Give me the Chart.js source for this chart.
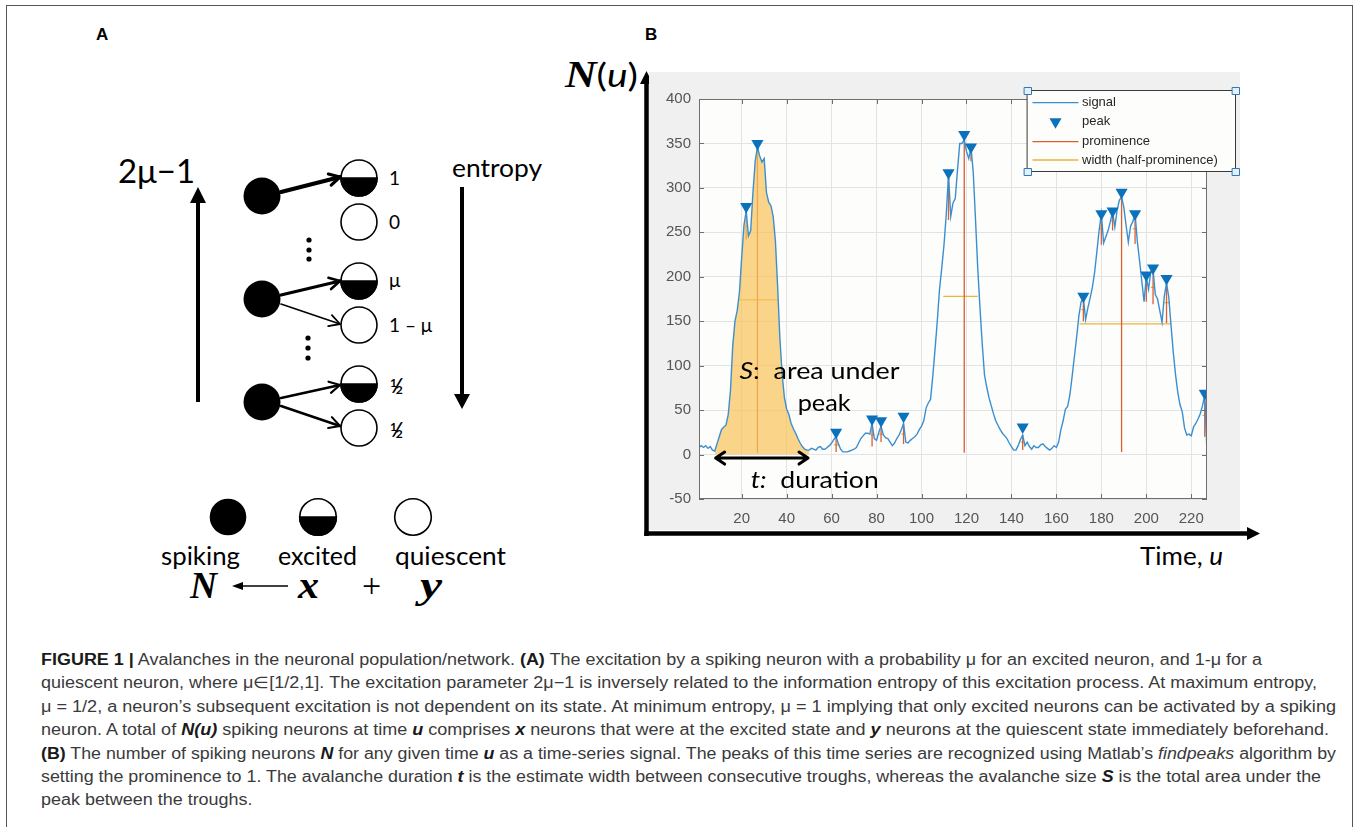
<!DOCTYPE html>
<html>
<head>
<meta charset="utf-8">
<script src="https://cdn.jsdelivr.net/npm/chart.js@4.4.1/dist/chart.umd.min.js"></script>
<style>
  body { margin: 0; width: 1359px; height: 827px; background: #fff; position: relative; overflow: hidden; font-family: 'Liberation Sans', Arial, sans-serif; }
  #frame { position: absolute; left: 6px; top: 5px; width: 1347px; height: 900px; border: 1.5px solid #555; box-sizing: border-box; }
  #panelA { position: absolute; left: 0; top: 0; }
  #chartB { position: absolute; left: 649px; top: 72px; }
  #caption { position: absolute; left: 41px; top: 648px; font-size: 16px; line-height: 23.4px; color: #3a3a3a; }
  #caption div { white-space: nowrap; }
  #caption span.l { display: inline-block; transform-origin: 0 0; }
  #caption b { color: #1a1a1a; }
</style>
</head>
<body>
<div id="frame"></div>
<svg id="panelA" width="1359" height="640" viewBox="0 0 1359 640"></svg>
<canvas id="chartB" width="591" height="458"></canvas>
<div id="caption">
  <div><span class="l"><b>FIGURE 1 |</b> Avalanches in the neuronal population/network. <b>(A)</b> The excitation by a spiking neuron with a probability μ for an excited neuron, and 1-μ for a</span></div>
  <div><span class="l">quiescent neuron, where μ∈[1/2,1]. The excitation parameter 2μ−1 is inversely related to the information entropy of this excitation process. At maximum entropy,</span></div>
  <div><span class="l">μ = 1/2, a neuron’s subsequent excitation is not dependent on its state. At minimum entropy, μ = 1 implying that only excited neurons can be activated by a spiking</span></div>
  <div><span class="l">neuron. A total of <b><i>N(u)</i></b> spiking neurons at time <b><i>u</i></b> comprises <b><i>x</i></b> neurons that were at the excited state and <b><i>y</i></b> neurons at the quiescent state immediately beforehand.</span></div>
  <div><span class="l"><b>(B)</b> The number of spiking neurons <b><i>N</i></b> for any given time <b><i>u</i></b> as a time-series signal. The peaks of this time series are recognized using Matlab’s <i>findpeaks</i> algorithm by</span></div>
  <div><span class="l">setting the prominence to 1. The avalanche duration <b><i>t</i></b> is the estimate width between consecutive troughs, whereas the avalanche size <b><i>S</i></b> is the total area under the</span></div>
  <div><span class="l">peak between the troughs.</span></div>
</div>
<script>
// N(u): number of spiking neurons, sampled at u = 1, 2, ... 227
const signal = [
  8, 10, 8, 10, 7, 9, 5, 4, 12, 20,
  28, 31, 33, 45, 72, 122, 150, 162, 183, 222,
  258, 274, 246, 252, 295, 330, 346, 336, 329, 333,
  295, 284, 280, 268, 240, 188, 130, 90, 64, 51,
  45, 35, 29, 24, 18, 13, 9, 6, 5, 5,
  7, 6, 5, 8, 9, 6, 6, 8, 10, 13,
  17, 20, 12, 6, 3, 3, 3, 4, 5, 6,
  8, 13, 18, 21, 24, 24, 23, 35, 18, 16,
  25, 32, 22, 19, 18, 14, 10, 13, 18, 22,
  28, 35, 14, 13, 16, 18, 20, 23, 28, 32,
  38, 52, 58, 62, 88, 118, 150, 186, 210, 236,
  270, 315, 268, 283, 288, 320, 350, 350, 354, 341,
  333, 345, 318, 265, 210, 165, 125, 90, 76, 64,
  55, 46, 38, 33, 28, 24, 21, 18, 13, 9,
  5, 5, 10, 17, 22, 10, 14, 9, 6, 10,
  8, 8, 11, 12, 9, 7, 5, 7, 10, 8,
  14, 28, 38, 51, 54, 67, 88, 110, 132, 156,
  172, 176, 152, 165, 176, 188, 205, 228, 252, 271,
  238, 245, 252, 262, 273, 256, 275, 286, 290, 278,
  258, 239, 257, 262, 271, 240, 218, 195, 172, 200,
  186, 206, 208, 180, 175, 162, 149, 178, 193, 177,
  145, 115, 90, 70, 56, 48, 30, 22, 23, 21,
  31, 35, 40, 46, 55, 67, 2
];
const firstU = 1;

// findpeaks output
const peakU     = [22, 27, 62, 78, 82, 92, 112, 119, 122, 145, 172, 180, 185, 189, 195, 200, 203, 209, 226];
const peakMark  = [279, 350, 25, 40, 38, 43, 317, 360, 346, 31, 178, 271, 274, 295, 271, 202, 210, 198, 69];
const promTop   = [272, 346, 20, 35, 32, 35, 315, 354, 345, 22, 176, 271, 273, 290, 271, 200, 208, 193, 67];
const promBase  = [242, 2, 3, 9, 14, 12, 264, 2, 330, 5, 150, 236, 252, 3, 237, 172, 169, 148, 20];
const widthLevel = [257, 174, 11, 22, 23, 23, 290, 178, 338, 14, 163, 254, 263, 147, 254, 186, 188, 171, 44];
const widthLeft  = [21.4, 18.8, 61, 77.4, 81, 91, 111.3, 109.7, 121.6, 144, 171, 179, 184.3, 170.3, 194, 199.5, 202, 208, 225];
const widthRight = [22.6, 36, 63.5, 79, 83, 92.7, 112.6, 125, 122.6, 146, 172.8, 180.6, 185.5, 211, 195.9, 200.6, 203.5, 210.5, 226.4];

// shaded avalanche (trough to trough)
const areaFrom = 8;
const areaTo = 50;

const xTicks = [20, 40, 60, 80, 100, 120, 140, 160, 180, 200, 220];
const yTicks = [-50, 0, 50, 100, 150, 200, 250, 300, 350, 400];

// ---------- panel A (diagram) ----------
function buildPanelA () {
  const svg = document.getElementById('panelA')
  const NS = 'http://www.w3.org/2000/svg'
  const add = (tag, attrs, text) => {
    const el = document.createElementNS(NS, tag)
    for (const k in attrs) el.setAttribute(k, attrs[k])
    if (text !== undefined) el.textContent = text
    svg.appendChild(el)
    return el
  }
  const sans = "Lato, 'Open Sans', sans-serif"
  const serif = "'Liberation Serif', 'DejaVu Serif', serif"

  add('text', { x: 96, y: 40, 'font-family': 'Liberation Sans, Arial', 'font-weight': 'bold', 'font-size': 17 }, 'A')
  add('text', { x: 645, y: 40, 'font-family': 'Liberation Sans, Arial', 'font-weight': 'bold', 'font-size': 17 }, 'B')

  add('text', { x: 118, y: 183, 'font-family': sans, 'font-size': 32, textLength: 77, lengthAdjust: 'spacingAndGlyphs' }, '2μ−1')
  add('text', { x: 452, y: 177, 'font-family': sans, 'font-size': 25, textLength: 90, lengthAdjust: 'spacingAndGlyphs' }, 'entropy')

  // big up / down arrows
  add('line', { x1: 198, y1: 402, x2: 198, y2: 200, stroke: '#000', 'stroke-width': 4 })
  add('polygon', { points: '190,203 206,203 198,187', fill: '#000' })
  add('line', { x1: 462, y1: 187, x2: 462, y2: 396, stroke: '#000', 'stroke-width': 4 })
  add('polygon', { points: '454,394 470,394 462,409', fill: '#000' })

  const disk = (cx, cy, r) => add('circle', { cx, cy, r, fill: '#000' })
  const open = (cx, cy, r) => add('circle', { cx, cy, r, fill: '#fff', stroke: '#000', 'stroke-width': 1.6 })
  const half = (cx, cy, r) => {
    open(cx, cy, r)
    add('path', { d: `M${cx - r},${cy} A${r},${r} 0 0 0 ${cx + r},${cy} Z`, fill: '#000', stroke: '#000', 'stroke-width': 1.6 })
  }
  const arrow = (x1, y1, x2, y2, w) => {
    add('line', { x1, y1, x2, y2, stroke: '#000', 'stroke-width': w, 'stroke-linecap': 'round' })
    const ang = Math.atan2(y2 - y1, x2 - x1)
    const len = 12
    const spread = 0.5
    const p1 = [x2 - len * Math.cos(ang - spread), y2 - len * Math.sin(ang - spread)]
    const p2 = [x2 - len * Math.cos(ang + spread), y2 - len * Math.sin(ang + spread)]
    add('polyline', { points: `${p1[0]},${p1[1]} ${x2},${y2} ${p2[0]},${p2[1]}`, fill: 'none', stroke: '#000', 'stroke-width': Math.max(w * 0.8, 1.8), 'stroke-linecap': 'round', 'stroke-linejoin': 'round' })
  }

  // spiking sources
  disk(262, 196, 18.5)
  disk(262, 299, 18.5)
  disk(262, 402, 18.5)
  // targets
  half(359, 178, 18)
  open(359, 222, 18)
  half(359, 281, 18)
  open(359, 325, 18)
  half(359, 384, 18)
  open(359, 428, 18)

  arrow(281, 192, 340, 177, 4)
  arrow(281, 295, 340, 281, 3.2)
  arrow(281, 304, 340, 324, 1.6)
  arrow(281, 398, 340, 385, 2.6)
  arrow(281, 406, 340, 426, 2.6)

  const lab = (x, y, t) => add('text', { x, y, 'font-family': sans, 'font-size': 19 }, t)
  lab(389, 185, '1')
  lab(389, 229, '0')
  lab(389, 287, 'μ')
  lab(389, 332, '1 – μ')
  // one-half labels built from small digits and a slash
  const halfLabel = (x, cy) => {
    const t = add('text', { x, y: cy, 'font-family': sans, 'font-weight': 'bold' })
    t.innerHTML = `<tspan font-size="12" dy="-2">1</tspan><tspan font-size="20" dx="-1" dy="6">⁄</tspan><tspan font-size="12" dx="-3" dy="1">2</tspan>`
  }
  halfLabel(390, 389)
  halfLabel(390, 433)

  ;[[309, 240], [309, 250], [309, 259], [308, 338], [308, 348], [308, 358]].forEach(([cx, cy]) => add('circle', { cx, cy, r: 2.6, fill: '#000' }))

  // key
  disk(228, 517, 18.3)
  half(318, 517, 18.3)
  open(413, 517, 18.3)
  add('text', { x: 161, y: 565, 'font-family': sans, 'font-size': 25, textLength: 79, lengthAdjust: 'spacingAndGlyphs' }, 'spiking')
  add('text', { x: 278, y: 565, 'font-family': sans, 'font-size': 25, textLength: 79, lengthAdjust: 'spacingAndGlyphs' }, 'excited')
  add('text', { x: 395, y: 565, 'font-family': sans, 'font-size': 25, textLength: 111, lengthAdjust: 'spacingAndGlyphs' }, 'quiescent')

  const mathVar = (x, t, w) => add('text', { x, y: 598, 'font-family': serif, 'font-size': 38, 'font-weight': 'bold', 'font-style': 'italic', textLength: w, lengthAdjust: 'spacingAndGlyphs' }, t)
  mathVar(190, 'N', 27)
  mathVar(298, 'x', 21)
  mathVar(420, 'y', 22)
  add('text', { x: 362, y: 597, 'font-family': serif, 'font-size': 34 }, '+')
  add('line', { x1: 288, y1: 586, x2: 240, y2: 586, stroke: '#000', 'stroke-width': 1.3 })
  add('polygon', { points: '232,586 243,582 243,590', fill: '#000' })

  // panel B outer axes and axis titles
  add('line', { x1: 646.5, y1: 536, x2: 646.5, y2: 82, stroke: '#000', 'stroke-width': 4.5 })
  add('polygon', { points: '640,84 653,84 646.5,71', fill: '#000' })
  add('line', { x1: 644.3, y1: 533.5, x2: 1249, y2: 533.5, stroke: '#000', 'stroke-width': 4.5 })
  add('polygon', { points: '1247,527 1247,540 1260,533.5', fill: '#000' })

  const nu = add('text', { x: 565, y: 87, 'font-size': 33, textLength: 73, lengthAdjust: 'spacingAndGlyphs' })
  nu.innerHTML = `<tspan font-family="${serif}" font-weight="bold" font-style="italic" font-size="37">N</tspan><tspan font-family="${sans}">(</tspan><tspan font-family="${sans}" font-style="italic">u</tspan><tspan font-family="${sans}">)</tspan>`
  const tu = add('text', { x: 1140, y: 565, 'font-family': sans, 'font-size': 25, textLength: 83, lengthAdjust: 'spacingAndGlyphs' })
  tu.innerHTML = 'Time, <tspan font-style="italic">u</tspan>'
}

// ---------- panel B (Chart.js) ----------
function fitText (ctx, parts, x, y, width) {
  let total = 0
  parts.forEach(p => { ctx.font = p.font; p.w = ctx.measureText(p.text).width; total += p.w })
  ctx.save()
  ctx.translate(x, y)
  ctx.scale(width / total, 1)
  let cx = 0
  parts.forEach(p => { ctx.font = p.font; ctx.fillText(p.text, cx, 0); cx += p.w })
  ctx.restore()
}

const matlabLook = {
  id: 'matlabLook',
  beforeDraw (chart) {
    const { ctx, chartArea: a, width, height } = chart
    ctx.save()
    ctx.fillStyle = '#f0f0f0'
    ctx.fillRect(0, 0, width, height)
    ctx.fillStyle = '#fdfdfb'
    ctx.fillRect(a.left, a.top, a.right - a.left, a.bottom - a.top)
    ctx.restore()
  },
  afterDatasetsDraw (chart) {
    const { ctx, chartArea: a, scales } = chart
    ctx.save()
    ctx.strokeStyle = '#6e6e6e'
    ctx.lineWidth = 1
    ctx.strokeRect(Math.round(a.left) + 0.5, Math.round(a.top) + 0.5, Math.round(a.right - a.left) - 1, Math.round(a.bottom - a.top) - 1)
    ctx.beginPath()
    xTicks.forEach(v => {
      const px = Math.round(scales.x.getPixelForValue(v)) + 0.5
      ctx.moveTo(px, a.bottom); ctx.lineTo(px, a.bottom - 5)
      ctx.moveTo(px, a.top); ctx.lineTo(px, a.top + 5)
    })
    yTicks.forEach(v => {
      const py = Math.round(scales.y.getPixelForValue(v)) + 0.5
      ctx.moveTo(a.left, py); ctx.lineTo(a.left + 5, py)
      ctx.moveTo(a.right, py); ctx.lineTo(a.right - 5, py)
    })
    ctx.stroke()
    ctx.restore()
  },
  afterDraw (chart) {
    const { ctx, chartArea: a, scales } = chart
    const px = v => scales.x.getPixelForValue(v)
    const py = v => scales.y.getPixelForValue(v)
    ctx.save()

    // duration arrow
    const ay = py(-4)
    const ax1 = px(areaFrom + 0.4)
    const ax2 = px(areaTo - 0.5)
    ctx.strokeStyle = '#000'
    ctx.lineWidth = 3
    ctx.lineCap = 'round'
    ctx.lineJoin = 'round'
    ctx.beginPath()
    ctx.moveTo(ax1, ay); ctx.lineTo(ax2, ay)
    ctx.moveTo(ax1 + 9, ay - 6); ctx.lineTo(ax1, ay); ctx.lineTo(ax1 + 9, ay + 6)
    ctx.moveTo(ax2 - 9, ay - 6); ctx.lineTo(ax2, ay); ctx.lineTo(ax2 - 9, ay + 6)
    ctx.stroke()

    ctx.fillStyle = '#000'
    ctx.textBaseline = 'alphabetic'
    fitText(ctx, [{ text: 'S', font: 'italic 24px Lato' }, { text: ':  area under', font: '24px Lato' }], px(19), py(85), 160)
    fitText(ctx, [{ text: 'peak', font: '24px Lato' }], px(44.9), py(49), 53)
    fitText(ctx, [{ text: 't:', font: 'italic 24px Lato' }, { text: '  duration', font: '24px Lato' }], px(24), py(-37.6), 128)

    // legend box
    const lx = a.right - 180
    const ly = a.top - 9
    const lw = 208
    const lh = 81
    ctx.fillStyle = '#fdfdfb'
    ctx.fillRect(lx, ly, lw, lh)
    ctx.strokeStyle = '#3a3a3a'
    ctx.lineWidth = 1
    ctx.strokeRect(lx + 0.5, ly + 0.5, lw, lh)
    const rows = [12.7, 31.7, 51.7, 70]
    const entries = chart.data.datasets.filter(d => d.legendRow !== undefined)
    ctx.font = '13px "Liberation Sans", Arial'
    ctx.textBaseline = 'middle'
    entries.forEach(d => {
      const ry = ly + rows[d.legendRow]
      if (d.showLine === false) {
        const cx = lx + 28.5
        const r = 7
        ctx.fillStyle = d.pointBackgroundColor
        ctx.beginPath()
        ctx.moveTo(cx, ry + r)
        ctx.lineTo(cx - r * 0.866, ry - r / 2)
        ctx.lineTo(cx + r * 0.866, ry - r / 2)
        ctx.closePath()
        ctx.fill()
      } else {
        ctx.strokeStyle = d.borderColor
        ctx.lineWidth = 1.3
        ctx.beginPath()
        ctx.moveTo(lx + 6, ry); ctx.lineTo(lx + 51, ry)
        ctx.stroke()
      }
      ctx.fillStyle = '#262626'
      ctx.fillText(d.label, lx + 55, ry)
    })
    // selection handles
    ctx.strokeStyle = '#2a7ab9'
    ctx.fillStyle = '#e6eef7'
    ctx.lineWidth = 1
    ;[[lx, ly], [lx + lw, ly], [lx, ly + lh], [lx + lw, ly + lh]].forEach(([hx, hy]) => {
      ctx.fillRect(hx - 3, hy - 3, 7, 7)
      ctx.strokeRect(hx - 2.5, hy - 2.5, 7, 7)
    })
    ctx.restore()
  }
}

function build () {
  buildPanelA()

  const points = signal.map((v, i) => ({ x: firstU + i, y: v }))
  const area = points.filter(p => p.x >= areaFrom && p.x <= areaTo)
  const peaks = peakU.map((u, i) => ({ x: u, y: peakMark[i] }))
  const prominence = []
  peakU.forEach((u, i) => { prominence.push({ x: u, y: promTop[i] }, { x: u, y: promBase[i] }, { x: u, y: null }) })
  const widths = []
  peakU.forEach((u, i) => { widths.push({ x: widthLeft[i], y: widthLevel[i] }, { x: widthRight[i], y: widthLevel[i] }, { x: widthRight[i], y: null }) })

  const tickFont = { family: "'Liberation Sans', Arial, sans-serif", size: 15 }

  new Chart(document.getElementById('chartB').getContext('2d'), {
    type: 'line',
    data: {
      datasets: [
        {
          label: 'signal',
          legendRow: 0,
          data: points,
          borderColor: '#3b8fd0',
          borderWidth: 1.4,
          pointRadius: 0,
          tension: 0,
          order: 2
        },
        {
          label: 'peak',
          legendRow: 1,
          data: peaks,
          showLine: false,
          pointStyle: 'triangle',
          pointRotation: 180,
          pointRadius: 7,
          pointBorderWidth: 0,
          pointBackgroundColor: '#0a72bd',
          pointBorderColor: '#0a72bd',
          order: 1
        },
        {
          label: 'prominence',
          legendRow: 2,
          data: prominence,
          borderColor: '#d95f33',
          borderWidth: 1.3,
          pointRadius: 0,
          spanGaps: false,
          order: 4
        },
        {
          label: 'width (half-prominence)',
          legendRow: 3,
          data: widths,
          borderColor: '#e9b53a',
          borderWidth: 1.3,
          pointRadius: 0,
          spanGaps: false,
          order: 5
        },
        {
          label: 'S',
          data: area,
          fill: 'origin',
          backgroundColor: 'rgba(248,196,92,0.72)',
          borderColor: 'transparent',
          borderWidth: 0,
          pointRadius: 0,
          order: 3
        }
      ]
    },
    options: {
      responsive: false,
      animation: false,
      devicePixelRatio: 1,
      events: [],
      layout: { padding: { top: 27, right: 33, left: 0, bottom: 0 } },
      scales: {
        x: {
          type: 'linear',
          min: firstU,
          max: firstU + signal.length - 1,
          afterBuildTicks: s => { s.ticks = xTicks.map(v => ({ value: v })) },
          afterFit: s => { s.height = 31 },
          grid: { color: '#e3e3e3', drawTicks: false },
          border: { display: false },
          ticks: { font: tickFont, color: '#555', padding: 11, maxRotation: 0, autoSkip: false }
        },
        y: {
          min: -50,
          max: 400,
          afterBuildTicks: s => { s.ticks = yTicks.map(v => ({ value: v })) },
          afterFit: s => { s.width = 50 },
          grid: { color: '#e3e3e3', drawTicks: false },
          border: { display: false },
          ticks: { font: tickFont, color: '#555', padding: 8 }
        }
      },
      plugins: {
        legend: { display: false },
        tooltip: { enabled: false }
      }
    },
    plugins: [matlabLook]
  })

  // caption lines: stretch each line to the measured column width
  const lineEnds = [1221, 1276, 1295, 1288, 1295, 1280]
  const spans = document.querySelectorAll('#caption span.l')
  let sum = 0
  spans.forEach((s, i) => {
    if (i < lineEnds.length) {
      const k = lineEnds[i] / s.getBoundingClientRect().width
      sum += k
      s.style.transform = `scaleX(${k})`
    }
  })
  spans[spans.length - 1].style.transform = `scaleX(${sum / lineEnds.length})`
}

build()
</script>
</body>
</html>
